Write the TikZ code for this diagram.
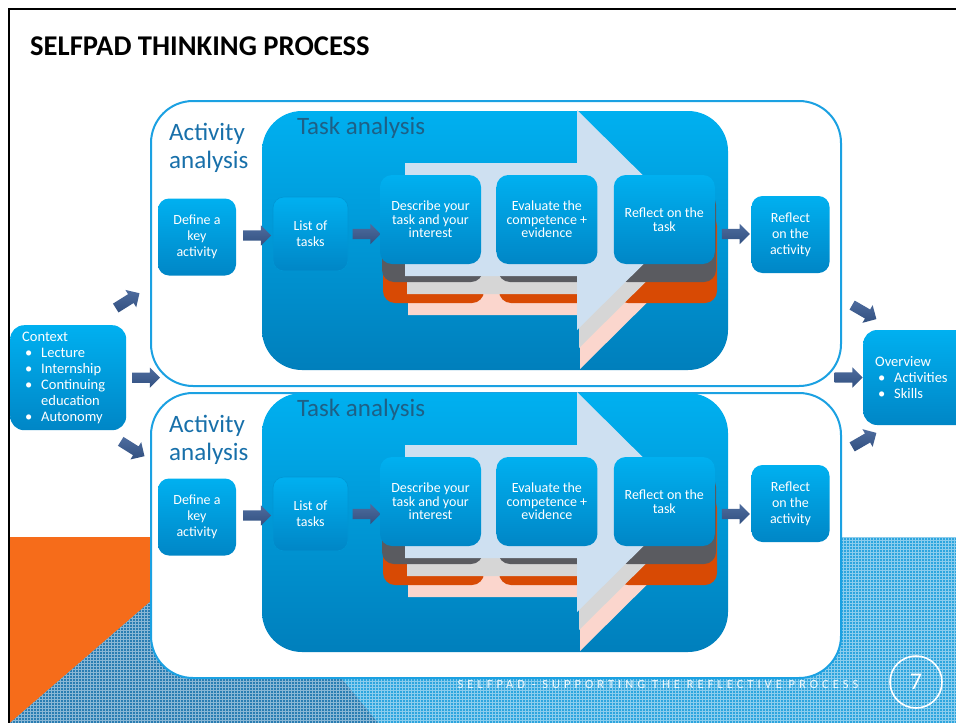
\documentclass[tikz,border=0pt]{standalone}
\usepackage{fontspec}
\setmainfont{Carlito}
\newfontfamily\footfont[LetterSpace=32]{Carlito}
\usetikzlibrary{shapes.arrows,patterns,calc,positioning}
\definecolor{boxtop}{RGB}{0,176,240}
\definecolor{boxbot}{RGB}{0,134,198}
\definecolor{taskbot}{RGB}{0,127,188}
\definecolor{boxedge}{RGB}{0,150,212}
\definecolor{rim}{RGB}{27,161,226}
\definecolor{arrowtop}{RGB}{78,108,158}
\definecolor{arrowbot}{RGB}{50,80,128}
\definecolor{shaftblue}{RGB}{206,224,241}
\definecolor{shaftgrey}{RGB}{214,214,214}
\definecolor{shaftpink}{RGB}{251,214,205}
\definecolor{layergrey}{RGB}{90,91,96}
\definecolor{layerorange}{RGB}{216,74,4}
\definecolor{slideorange}{RGB}{246,108,26}
\definecolor{patlight}{RGB}{45,165,222}
\definecolor{patdark}{RGB}{42,125,178}
\definecolor{tasktitle}{RGB}{30,96,134}
\definecolor{acttitle}{RGB}{24,112,170}
\newcommand{\bul}{\hspace*{3pt}\makebox[16pt][l]{\textbullet}}

\begin{document}
\begin{tikzpicture}[x=1pt,y={(0pt,-1pt)},
  card/.style={rounded corners=#1,top color=boxtop,bottom color=boxbot,text=white,align=center,inner sep=0pt},
  stepbox/.style={card=12pt,minimum width=101pt,minimum height=89pt,font=\fontsize{14}{13.5}\selectfont},
  sidebox/.style={card=11pt,minimum width=78pt,minimum height=77pt,font=\fontsize{14}{16}\selectfont},
  listbox/.style={sidebox,minimum width=75pt,minimum height=74pt,draw=boxedge,line width=0.6pt},
  listcard/.style={card=14pt,text width=#1,inner xsep=12pt,align=left,font=\fontsize{14.5}{16}\selectfont},
  blockarrow/.style={single arrow,top color=arrowtop,bottom color=arrowbot,inner xsep=0pt,inner ysep=5pt,single arrow head extend=5pt,minimum height=28pt},
  framebox/.style={draw=rim,line width=2pt,fill=white,rounded corners=42pt,minimum width=690pt,minimum height=285pt},
  taskbox/.style={rounded corners=40pt,top color=boxtop,bottom color=taskbot,minimum width=466pt,minimum height=259pt},
  pat/.style={fill=#1,postaction={pattern=grid,pattern color=white!45!#1}}]
\useasboundingbox (0,0) rectangle (956,723);
\fill[white] (0,0) rectangle (956,723);
\path[pat=patlight] (225,537) -- (956,537) -- (956,723) -- (378,723) -- cycle;
\fill[slideorange] (10,537) -- (225,537) -- (10,723) -- cycle;
\path[pat=patdark] (10,723) -- (225,537) -- (378,723) -- cycle;
\draw[line width=2.5pt] (9,723) -- (9,9) -- (956,9);
\node[anchor=west,inner sep=0pt,font=\bfseries\fontsize{28.6}{30}\selectfont] (title) at (30,46) {SELFPAD THINKING PROCESS};
\node[inner sep=0pt,text=white!92!patlight,font=\footfont\fontsize{12.5}{12.5}\selectfont] (foot) at (658,684.5) {SELFPAD - SUPPORTING THE REFLECTIVE PROCESS};
\node[circle,draw=white,line width=1.6pt,minimum size=52pt,text=white,font=\fontsize{24}{24}\selectfont] (page) at (916,682) {7};
\foreach \s/\t/\a/\r/\o in {1/0/0/0/0,2/282/280/269/292}{
  \node[framebox] (aa\s) at (496,243.5+\o) {};
  \node[anchor=west,inner sep=0pt,align=left,text=acttitle,font=\fontsize{25}{28}\selectfont] (aat\s) at ($(aa\s.north west)+(19,48)$) {Activity\\analysis};
  \node[taskbox] (ta\s) at (495,240.5+\t) {};
  \node[anchor=west,inner sep=0pt,text=tasktitle,font=\fontsize{25}{28}\selectfont] (tat\s) at ($(ta\s.north west)+(35,17)$) {Task analysis};
  \begin{scope}[shift={(0,\t)}]
  \foreach \sc/\bc/\ox/\oy in {shaftpink/layerorange/3/39,shaftgrey/layergrey/2/18}{
    \fill[\sc] (405+\ox,163+\oy) -- (577+\ox,163+\oy) -- (577+\ox,110+\oy) -- (688+\ox,220+\oy)
      -- (577+\ox,330+\oy) -- (577+\ox,276+\oy) -- (405+\ox,276+\oy) -- cycle;
    \foreach \x in {380,496,613}
      \fill[\bc,rounded corners=12pt] (\x+\ox,175+\oy) rectangle +(101,89);
  }
  \fill[shaftblue] (405,163) -- (577,163) -- (577,110) -- (688,220) -- (577,330) -- (577,276) -- (405,276) -- cycle;
  \end{scope}
  \node[stepbox] (desc\s) at (430.5,219.5+\t) {Describe your\\task and your\\interest};
  \node[stepbox,right=15pt of desc\s] (eval\s) {Evaluate the\\competence +\\evidence};
  \node[stepbox,right=16pt of eval\s] (refl\s) {Reflect on the\\task};
  \node[sidebox] (def\s) at (197,237+\a) {Define a\\key\\activity};
  \node[listbox] (list\s) at (310.5,234+\a) {List of\\tasks};
  \node[sidebox] (ract\s) at (790.5,234.5+\r) {Reflect\\on the\\activity};
  \node[blockarrow] (ar\s a) at ($(def\s.east)!0.5!(list\s.west)$) {};
  \coordinate (m\s) at ($(list\s.east)!0.5!(desc\s.west)$);
  \node[blockarrow] (ar\s b) at (m\s |- list\s.east) {};
  \coordinate (n\s) at ($(refl\s.east)!0.5!(ract\s.west)$);
  \node[blockarrow] (ar\s c) at (n\s |- list\s.east) {};
}
\node[listcard=92pt,anchor=north west,minimum height=105pt] (ctx) at (10,325)
  {Context\\\bul Lecture\\\bul Internship\\\bul Continuing\\\hspace*{19pt}education\\\bul Autonomy};
\node[listcard=94pt,anchor=west,minimum height=95pt] (ovr) at (863,377.5)
  {Overview\\\bul Activities\\\bul Skills};
\node[blockarrow,rotate=32] (ctxup) at ($(ctx.north east)+(-1,-23)$) {};
\node[blockarrow] (ctxmid) at ($(ctx.east)+(17,0)$) {};
\node[blockarrow,rotate=-32] (ctxdown) at ($(ctx.south east)+(4,17)$) {};
\node[blockarrow,rotate=-30] (ovrdown) at ($(ovr.north west)+(-1,-19)$) {};
\node[blockarrow] (ovrmid) at ($(ovr.west)+(-17,0)$) {};
\node[blockarrow,rotate=30] (ovrup) at ($(ovr.south west)+(-1,16)$) {};
\end{tikzpicture}
\end{document}
